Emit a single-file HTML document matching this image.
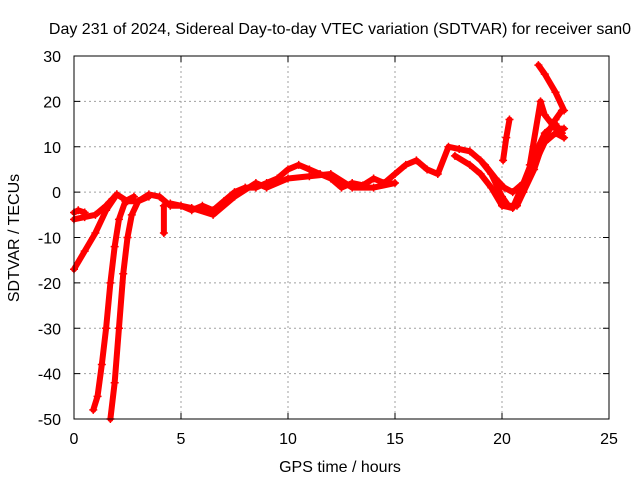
<!DOCTYPE html>
<html><head><meta charset="utf-8"><style>
body{margin:0;background:#fff;}
svg{display:block;font-family:"Liberation Sans",sans-serif;}
</style></head><body>
<svg id="chart" width="640" height="480">
<text x="340" y="34" text-anchor="middle" font-size="16">Day 231 of 2024, Sidereal Day-to-day VTEC variation (SDTVAR) for receiver san0</text>
<g id="grid"></g>
<g id="series"></g>
<rect x="74" y="56" width="535" height="363" fill="none" stroke="#000" stroke-width="1"/>
<g id="axes"></g>
<text x="340" y="472" text-anchor="middle" font-size="16">GPS time / hours</text>
<text transform="translate(19,238) rotate(-90)" text-anchor="middle" font-size="16">SDTVAR / TECUs</text>
</svg>
<script>
const xTicks=[0,5,10,15,20,25];
const yTicks=[-50,-40,-30,-20,-10,0,10,20,30];
const trackTimes1=[0,0.5,1,1.5,1.8,2.0];
const trackVals1=[-6,-5.5,-5,-3,-1.5,-0.5];
const trackTimes2=[0,0.5,1,1.5,2.0];
const trackVals2=[-17,-13,-9,-4,-0.5];
const trackTimes3=[0,0.2,0.5];
const trackVals3=[-4.5,-4,-4.5];
const mainTimes=[2,2.5,3,3.5,4,4.5,5,5.5,6,6.5,7,7.5,8,8.5,9,9.5,10,10.5,11,11.5,12,12.5,13,13.5,14,14.5,15,15.5,16,16.5,17,17.5,18,18.5,19,19.5,20,20.3,20.7,21,21.5,22,22.5,22.8];
const mainVals=[-0.5,-2,-2,-0.5,-1,-3,-3,-4,-3,-4,-2,0,1,1,2,3,5,6,5,4,3,1,2,1.5,3,2,4,6,7,5,4,10,9.5,9,7,4,-1,-3,-3,0,5,12,16,18];
const bandTimes=[4.5,5.5,6.5,7.5,8.5,9,10,11,12,13,14,15];
const bandVals=[-2.5,-3.5,-5,-1,2,1,3,3.5,4,1,1,2];
const branchTimes=[17.8,18.5,19,19.5,20,20.5,21,21.5,22,22.5,22.8];
const branchVals=[8,6,4,1,-3,-3.5,2,8,13,15,13];
const branch2Times=[19.2,19.7,20.1,20.5,21,21.5,22,22.5,22.9];
const branch2Vals=[6,3,1,0,2,6,11,13,12];
const shortTimes=[20.05,20.2,20.35];
const shortVals=[7,12,16];
const topTimes=[21.7,22,22.5,22.9];
const topVals=[28,26,22,18];
const top2Times=[21.3,21.8,22,22.5,22.9];
const top2Vals=[6,20,17,14,14];
const steepATimes=[0.9,1.1,1.3,1.5,1.7,1.9,2.1,2.4,2.8];
const steepAVals=[-48,-45,-38,-30,-20,-12,-6,-2,-1];
const steepBTimes=[1.7,1.9,2.1,2.3,2.5,2.7,3.0,3.5];
const steepBVals=[-50,-42,-30,-18,-10,-5,-2,-1];
const spikeTimes=[4.2,4.2];
const spikeVals=[-9,-3];

const X0=74,X1=609,Y0=419,Y1=56;
const xs=t=>X0+(t-0)/(25-0)*(X1-X0);
const ys=v=>Y0-(v+50)/80*(Y0-Y1);
const NS="http://www.w3.org/2000/svg";
const grid=document.getElementById('grid'),axes=document.getElementById('axes'),ser=document.getElementById('series');
xTicks.forEach(t=>{
  const x=xs(t);
  if(t>0&&t<25){const l=document.createElementNS(NS,'line');
  
  
  l.setAttribute('x1',x);l.setAttribute('x2',x);l.setAttribute('y1',Y1);l.setAttribute('y2',Y0);
  l.setAttribute('stroke','#a0a0a0');l.setAttribute('stroke-dasharray','2,3');grid.appendChild(l);}
  const k=document.createElementNS(NS,'path');
  
  
  k.setAttribute('d',`M${x},${Y0}v-6M${x},${Y1}v6`);k.setAttribute('stroke','#000');axes.appendChild(k);
  const tx=document.createElementNS(NS,'text');
  
  
  tx.setAttribute('x',x);tx.setAttribute('y',444);tx.setAttribute('text-anchor','middle');tx.setAttribute('font-size','16');
  tx.textContent=t;axes.appendChild(tx);
});
yTicks.forEach(v=>{
  const y=ys(v);
  if(v>-50&&v<30){const l=document.createElementNS(NS,'line');
  
  
  l.setAttribute('x1',X0);l.setAttribute('x2',X1);l.setAttribute('y1',y);l.setAttribute('y2',y);
  l.setAttribute('stroke','#a0a0a0');l.setAttribute('stroke-dasharray','2,3');grid.appendChild(l);}
  const k=document.createElementNS(NS,'path');
  
  
  k.setAttribute('d',`M${X0},${y}h6M${X1},${y}h-6`);k.setAttribute('stroke','#000');axes.appendChild(k);
  const tx=document.createElementNS(NS,'text');
  
  
  tx.setAttribute('x',61);tx.setAttribute('y',y+6);tx.setAttribute('text-anchor','end');tx.setAttribute('font-size','16');
  tx.textContent=v;axes.appendChild(tx);
});
const tracks=[[trackTimes1,trackVals1],[trackTimes2,trackVals2],[trackTimes3,trackVals3],[mainTimes,mainVals],[bandTimes,bandVals],[branchTimes,branchVals],[branch2Times,branch2Vals],[shortTimes,shortVals],[topTimes,topVals],[top2Times,top2Vals],[steepATimes,steepAVals],[steepBTimes,steepBVals],[spikeTimes,spikeVals]];
tracks.forEach(([T,V])=>{
  const p=document.createElementNS(NS,'polyline');
  
  
  p.setAttribute('points',T.map((t,i)=>xs(t)+','+ys(V[i])).join(' '));
  p.setAttribute('fill','none');p.setAttribute('stroke','#f00');p.setAttribute('stroke-width','6');
  p.setAttribute('stroke-linejoin','round');p.setAttribute('stroke-linecap','round');
  ser.appendChild(p);
  T.forEach((t,i)=>{
    const m=document.createElementNS(NS,'path');
    
    
    const x=xs(t),y=ys(V[i]);
    m.setAttribute('d',`M${x-4},${y}h8M${x},${y-4}v8`);m.setAttribute('stroke','#f00');m.setAttribute('stroke-width','1.5');
    ser.appendChild(m);
  });
});
</script>
</body></html>
